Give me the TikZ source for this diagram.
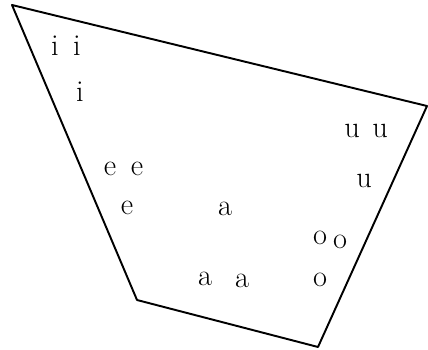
\documentclass[tikz,border=0pt]{standalone}
\usepackage{tikz}
\usetikzlibrary{positioning}

\begin{document}
\begin{tikzpicture}[
  x=0.02cm, y=-0.02cm,
  vowel/.style={inner sep=0pt, font=\LARGE},
  edge/.style={line width=1.1pt, line join=round},
]
\useasboundingbox (0,0) rectangle (428,350);
% Corners of the chart
\coordinate (frontHigh) at (12,5);
\coordinate (backHigh)  at (427,106);
\coordinate (backLow)   at (318,347);
\coordinate (frontLow)  at (137,300);
\draw[edge] (frontHigh) -- (backHigh) -- (backLow) -- (frontLow) -- cycle;
% Vowels
\node[vowel] (ii1) at (55,46)  {i};
\node[vowel] (ii2) at (77,46)  {i};
\node[vowel] (i)   at (80,92)  {i};
\node[vowel] (ee1) at (110,169) {e};
\node[vowel] (ee2) at (137,169) {e};
\node[vowel] (e)   at (127,208) {e};
\node[vowel] (a)   at (225,209) {a};
\node[vowel] (aa1) at (205,279) {a};
\node[vowel] (aa2) at (242,281) {a};
\node[vowel] (uu1) at (352,131) {u};
\node[vowel] (uu2) at (380,131) {u};
\node[vowel] (u)   at (364,181) {u};
\node[vowel] (oo1) at (320,238) {o};
\node[vowel] (oo2) at (340,242) {o};
\node[vowel] (o)   at (320,280) {o};
\end{tikzpicture}
\end{document}
